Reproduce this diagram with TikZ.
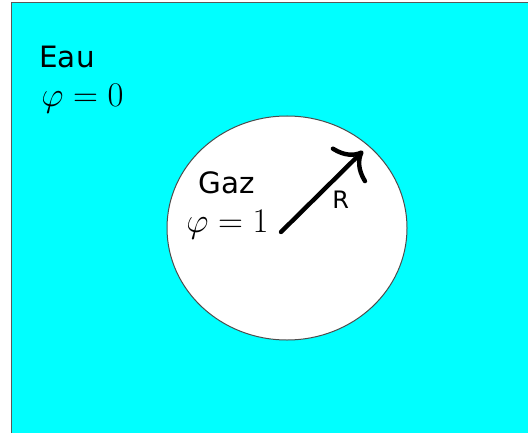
\documentclass[tikz,border=0pt]{standalone}
\usepackage{amsmath}
\usepackage{fontspec}
\setsansfont{DejaVu Sans}
\usetikzlibrary{shapes.geometric,arrows.meta}
\definecolor{eaucyan}{HTML}{00FFFF}
\tikzset{
  phasename/.style={anchor=base west, inner sep=0pt,
                    font=\sffamily\fontsize{14.7}{17}\selectfont},
  phasevalue/.style={anchor=base west, inner sep=0pt,
                     font=\fontsize{18.8}{21}\selectfont},
  radiusname/.style={anchor=base west, inner sep=0pt,
                     font=\sffamily\fontsize{12}{14}\selectfont},
  bubble/.style={ellipse, draw=black!70, fill=white, line width=0.5pt,
                 minimum width=120pt, minimum height=112pt, inner sep=0pt},
  radiusarrow/.style={draw, line width=2.2pt, line cap=round,
                      -{Computer Modern Rightarrow[length=11pt, width=25pt]}}
}
\begin{document}
\begin{tikzpicture}[x=0.5pt, y=-0.5pt]
  \useasboundingbox (0,0) rectangle (528,432);
  % water domain
  \draw[draw=black!65, line width=0.8pt, fill=eaucyan]
    (11.5,2.5) rectangle (540,440);
  % gas bubble
  \node[bubble] (gaz) at (287,228) {};
  \node[phasename] (eau) at (39,68) {Eau};
  \node[phasevalue] (phieau) at (41,107) {$\varphi=0$};
  \node[phasename] (gazname) at (198,194) {Gaz};
  \node[phasevalue, font=\fontsize{16.4}{19}\selectfont] (phigaz)
    at (186,233) {$\varphi=1$};
  % radius
  \coordinate (centre) at (281,232);
  \coordinate (bord) at (363,151);
  \draw[radiusarrow] (centre) -- (bord);
  \node[radiusname] (r) at (332,209) {R};
\end{tikzpicture}
\end{document}
